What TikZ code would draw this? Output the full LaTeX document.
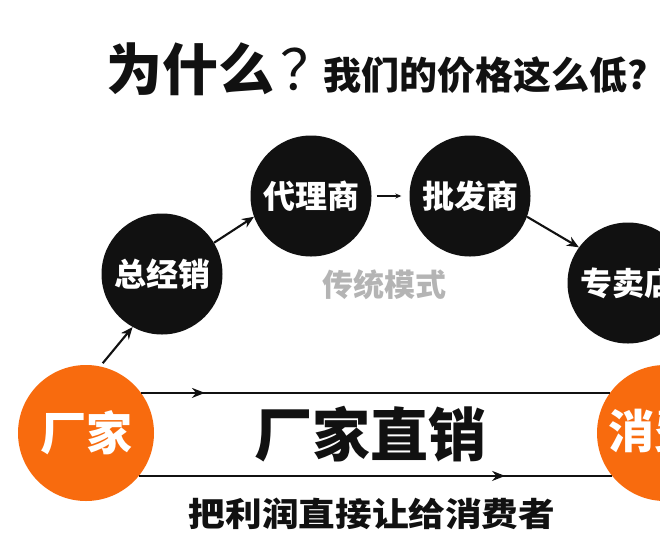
\documentclass[tikz,border=0pt]{standalone}
\usepackage{fontspec}
\setmainfont{Noto Sans CJK SC}
\usetikzlibrary{arrows.meta,decorations.markings}
\definecolor{orng}{HTML}{F86B0E}
\definecolor{blk}{HTML}{111111}
\definecolor{gry}{HTML}{B4B4B4}
\newcommand{\fsz}[1]{\fontsize{#1}{#1}\selectfont}
\tikzset{
  bcirc/.style={circle,fill=blk,minimum size=121pt,inner sep=0pt,text=white,font=\bfseries\fsz{32}},
  ocirc/.style={circle,fill=orng,minimum size=136pt,inner sep=0pt,text=white,font=\bfseries\fsz{46}},
  txt/.style={inner sep=0pt,text=blk},
  arr/.style={line width=2.1pt,draw=blk,-{Stealth[length=12pt,width=10pt]}},
  thinarr/.style={line width=1.1pt,draw=blk,-{Stealth[length=6pt,width=5pt]}},
  midarrow/.style={line width=1.8pt,draw=blk,postaction={decorate},
    decoration={markings,mark=at position #1 with {\arrow{Stealth[length=13pt,width=10pt]}}}}
}
\begin{document}
\begin{tikzpicture}[x=1pt,y=-1pt]
\useasboundingbox (0,0) rectangle (660,544);
\fill[white] (0,0) rectangle (660,544);
% title
\node[txt,anchor=west,font=\bfseries\fsz{56}] (t1) at (106,69) {为什么\hspace{6pt}{\mdseries ？}};
\node[txt,font=\bfseries\fsz{38}] (t2) at (486,75) {我们的价格这么低?};
% circles
\node[ocirc] (cj) at (86,433) {厂家};
\node[circle,fill=orng,minimum size=136pt,inner sep=0pt] (xf) at (665,433) {};
\node[txt,anchor=west,text=white,font=\bfseries\fsz{46}] (xft) at (608,431) {消费者};
\node[bcirc] (zjx) at (162,274) {总经销};
\node[bcirc] (dls) at (311,196) {代理商};
\node[bcirc] (pfs) at (470,196) {批发商};
\node[bcirc] (zmd) at (628,283) {专卖店};
% labels
\node[txt,text=gry,font=\bfseries\fsz{31}] (ctms) at (384,285) {传统模式};
\node[txt,font=\bfseries\fsz{58}] (cjzx) at (370,434) {厂家直销};
\node[txt,font=\bfseries\fsz{33}] (blr) at (372,514) {\scalebox{1.11}[1]{把利润直接让给消费者}};
% arrows
\draw[arr,shorten <=4pt] (cj.78) -- (zjx.241);
\draw[arr] (zjx.31) -- (dls.200);
\draw[thinarr,shorten <=5pt,shorten >=8pt] (dls.east) -- (pfs.west);
\draw[arr] (pfs.-20) -- (zmd.144);
\draw[midarrow=0.136] (cj.36) -- (xf.144);
\draw[midarrow=0.774] (cj.-39) -- (xf.-141);
\end{tikzpicture}
\end{document}
